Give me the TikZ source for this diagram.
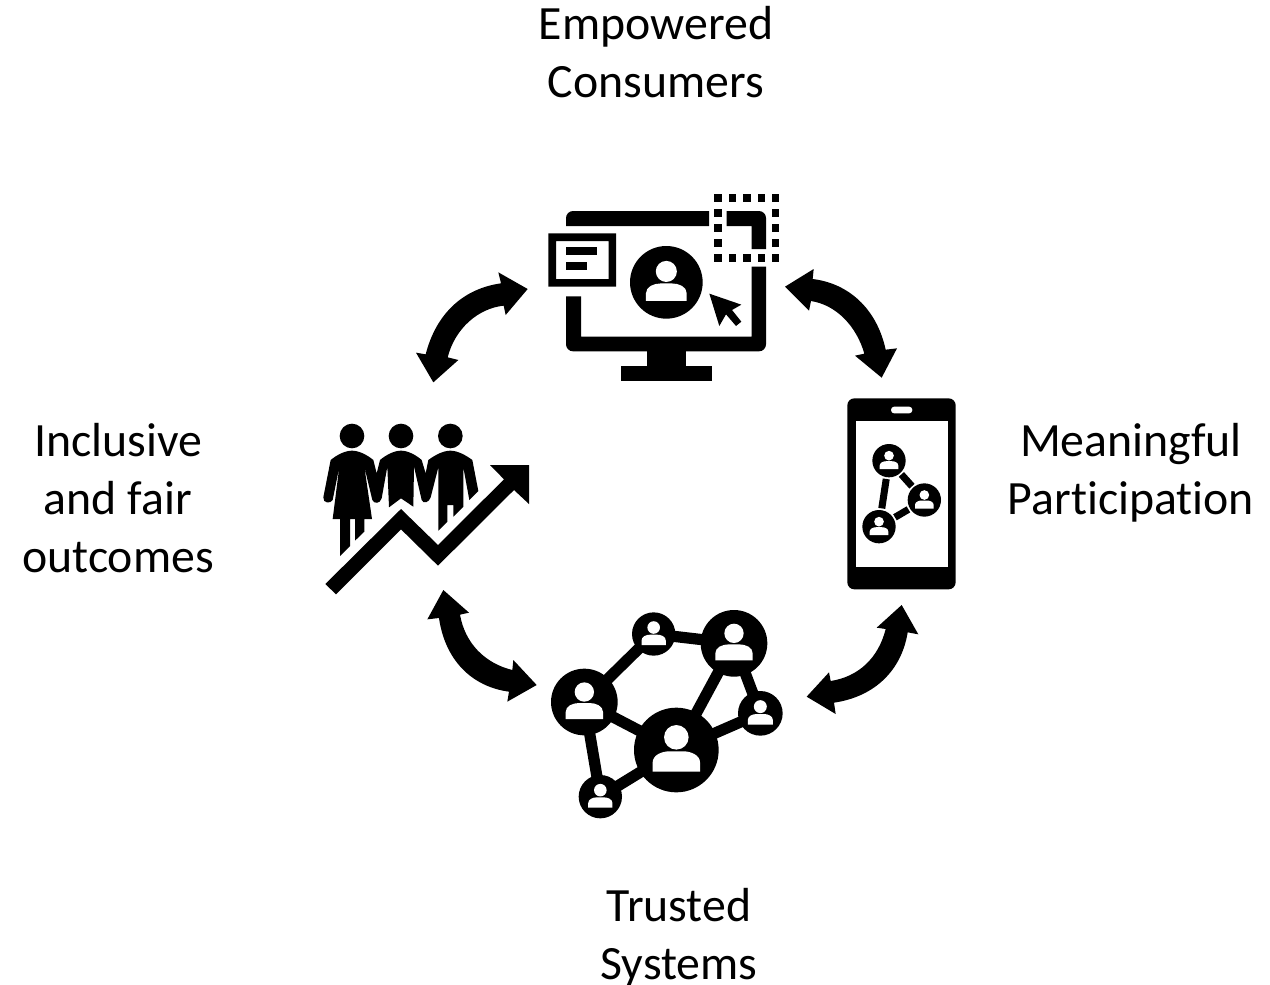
\documentclass[tikz,border=0pt]{standalone}
\usepackage{fontspec}
\setmainfont{Carlito}[Ligatures=NoCommon]
\newcommand{\personicon}[2]{%
  \begin{scope}[shift={(#1)},scale=#2]
    \fill[black] (0,0) circle (1);
    \fill[white] (0,-0.30) circle (0.29);
    \fill[white] (-0.56,0.51) -- (-0.56,0.30) .. controls (-0.56,0.12) and (-0.35,0.03) .. (-0.15,0.03)
      -- (0.15,0.03) .. controls (0.35,0.03) and (0.56,0.12) .. (0.56,0.30) -- (0.56,0.51) -- cycle;
  \end{scope}}
\tikzset{
  label text/.style={font=\fontsize{27.2}{32.8}\selectfont,align=center,text=black,inner sep=0pt},
  icon/.style={fill=black,draw=none},
  link/.style={draw=black,line width=6.4pt},
  phone link/.style={draw=black,line width=4pt,shorten >=0.37cm,shorten <=0.37cm},
  zoomed/.style={scale=0.33333}
}
\begin{document}
\begin{tikzpicture}[x=0.02cm,y=-0.02cm]
\useasboundingbox (0,0) rectangle (1270,984);

% labels
\node[label text] (empowered) at (656,52) {Empowered\\Consumers};
\node[label text] (meaningful) at (1131,472.5) {Meaningful\\Participation};
\node[label text] (trusted) at (679,937.5) {Trusted\\Systems};
\node[label text] (inclusive) at (118,498) {Inclusive\\and fair\\outcomes};

% monitor
\begin{scope}[shift={(530,180)},zoomed]
  \fill[icon] (537,138) -- (108,138) [rounded corners=4pt] -- (108,93) [sharp corners] -- (537,93) -- cycle;
  \fill[icon] (590,138) -- (590,93) [rounded corners=4pt] -- (708,93) [sharp corners] -- (708,207) -- (665,207) -- (665,138) -- cycle;
  \fill[icon] (153,349) -- (108,349) [rounded corners=4pt] -- (108,514) -- (708,514) [sharp corners] -- (708,260) -- (665,260) -- (665,470) -- (153,470) -- cycle;
  \fill[icon] (350,510) rectangle (468,560);
  \fill[icon] (274,558) rectangle (545,604);
  % window
  \fill[icon,even odd rule] (55,160) rectangle (258,320) (78,183) rectangle (236,297);
  \fill[icon] (108,201) rectangle (201,224);
  \fill[icon] (108,246) rectangle (170,269);
  % dotted square
  \foreach \sx in {553,596,640,683,725} {
    \fill[icon] (\sx,42) rectangle +(23,23);
    \fill[icon] (\sx,222) rectangle +(23,23);
  }
  \foreach \sy in {87,132,177} {
    \fill[icon] (553,\sy) rectangle +(23,23);
    \fill[icon] (725,\sy) rectangle +(23,23);
  }
  \coordinate (monitorperson) at (409,307);
  \personicon{monitorperson}{109}
  % cursor
  \fill[icon] (538,341) -- (634,374) -- (606,390) -- (634,425) -- (618,438) -- (588,403) -- (568,438) -- cycle;
\end{scope}

% people and rising arrow
\begin{scope}[shift={(310,410)},zoomed]
  \fill[icon] (126,78) circle (37);
  \fill[icon] (273,78) circle (37);
  \fill[icon] (421,78) circle (37);
  \fill[icon] (62,150) .. controls (80,135) and (105,122) .. (126,122) .. controls (147,122) and (172,135) .. (190,150)
    -- (200,190) -- (210,150) .. controls (228,135) and (252,122) .. (273,122) .. controls (294,122) and (318,135) .. (335,150)
    -- (347,190) -- (355,150) .. controls (375,135) and (400,122) .. (421,122) .. controls (442,122) and (467,135) .. (487,150)
    -- (505,243) -- (478,270) -- (460,172) -- (460,290) -- (430,320) -- (430,285) -- (412,285) -- (412,335) -- (385,362) -- (385,172)
    -- (362,262) .. controls (358,276) and (340,284) .. (335,270) -- (312,170) -- (310,290) -- (273,265) -- (237,292) -- (232,170)
    -- (215,265) .. controls (210,282) and (192,282) .. (187,270) -- (163,170) -- (186,327) -- (163,327) -- (163,365) -- (135,392)
    -- (135,327) -- (120,327) -- (120,408) -- (90,438) -- (90,327) -- (68,327) -- (88,170) -- (68,270)
    .. controls (62,282) and (38,280) .. (40,262) -- cycle;
  \fill[icon] (46,522) -- (273,297) -- (384,405) -- (582,208) -- (540,165) -- (657,165) -- (657,282) -- (612,240) -- (384,467) -- (273,358) -- (78,553) -- cycle;
\end{scope}

% network
\begin{scope}[shift={(535,600)},zoomed]
  \coordinate (na) at (148,306);
  \coordinate (nb) at (356,102);
  \coordinate (nc) at (597,130);
  \coordinate (nd) at (676,340);
  \coordinate (ne) at (424,450);
  \coordinate (nf) at (196,590);
  \draw[link] (na) -- (nb);
  \draw[link] (nb) -- (nc);
  \draw[link] (nc) -- (ne);
  \draw[link] (nc) -- (nd);
  \draw[link] (nd) -- (ne);
  \draw[link] (na) -- (ne);
  \draw[link] (na) -- (nf);
  \draw[link] (nf) -- (ne);
  \personicon{na}{100}
  \personicon{nb}{65}
  \personicon{nc}{100}
  \personicon{nd}{67}
  \personicon{ne}{127}
  \personicon{nf}{65}
\end{scope}

% phone
\begin{scope}[shift={(835,390)},zoomed]
  \fill[icon,rounded corners=4pt] (37,25) rectangle (362,598);
  \fill[white] (62,92) rectangle (338,530);
  \fill[white,rounded corners=1.8pt] (168,50) rectangle (232,70);
  \coordinate (pa) at (162,212);
  \coordinate (pb) at (268,330);
  \coordinate (pc) at (132,410);
  \draw[phone link] (pa) -- (pb);
  \draw[phone link] (pa) -- (pc);
  \draw[phone link] (pb) -- (pc);
  \personicon{pa}{50}
  \personicon{pb}{50}
  \personicon{pc}{50}
\end{scope}

% block arrows
\begin{scope}[shift={(405,265)},zoomed]
  \fill[icon] (368,72) -- (302,150) -- (296,122) .. controls (220,130) and (150,190) .. (128,277) -- (160,285) -- (85,352) -- (33,263) -- (62,268) .. controls (95,140) and (180,70) .. (288,55) -- (280,22) -- cycle;
\end{scope}
\begin{scope}[shift={(775,265)},zoomed]
  \fill[icon] (30,65) -- (116,12) -- (113,42) .. controls (220,55) and (305,130) .. (332,254) -- (366,250) -- (320,338) -- (240,272) -- (268,266) .. controls (245,185) and (185,120) .. (108,108) -- (102,137) -- cycle;
\end{scope}
\begin{scope}[shift={(415,580)},zoomed]
  \fill[icon] (85,30) -- (162,98) -- (135,104) .. controls (150,190) and (210,250) .. (292,270) -- (295,240) -- (365,315) -- (277,365) -- (282,335) .. controls (170,320) and (90,240) .. (72,114) -- (37,118) -- cycle;
\end{scope}
\begin{scope}[shift={(795,595)},zoomed]
  \fill[icon] (320,30) -- (370,118) -- (338,112) .. controls (320,225) and (240,305) .. (117,323) -- (122,357) -- (35,305) -- (102,232) -- (107,258) .. controls (190,245) and (250,190) .. (272,102) -- (245,98) -- cycle;
\end{scope}
\end{tikzpicture}
\end{document}
